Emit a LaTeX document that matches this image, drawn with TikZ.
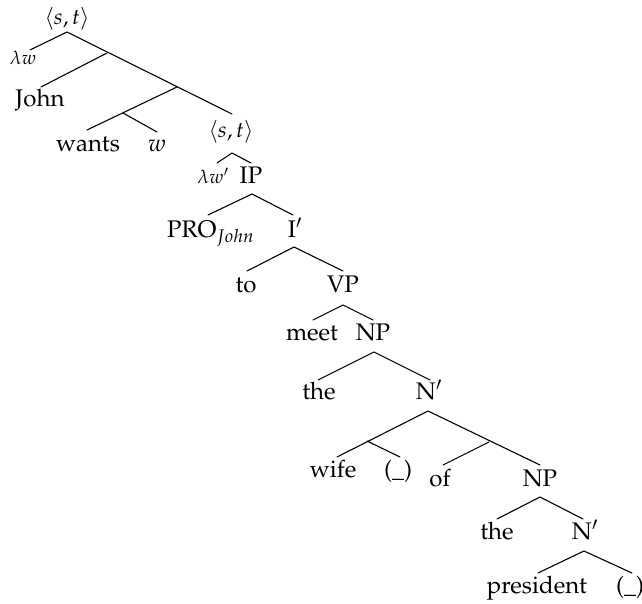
\documentclass[tikz,border=0pt]{standalone}
\usepackage[T1]{fontenc}
\usepackage{mathpazo}
\begin{document}
\begin{tikzpicture}[x=1pt,y=-1pt,
  lab/.style={inner sep=0pt, anchor=base, font=\fontsize{24}{28}\selectfont},
  mlab/.style={inner sep=0pt, anchor=base, font=\fontsize{22}{26}\selectfont},
  slab/.style={inner sep=0pt, anchor=base, font=\fontsize{19}{22}\selectfont},
  br/.style={line width=1.1pt, line cap=round}]
\useasboundingbox (0,0) rectangle (642,604);
% labels
\node[mlab] (st1) at (67,25) {$\langle s,t\rangle$};
\node[slab] (lw) at (23,65) {$\lambda w$};
\node[lab] (john) at (40,107) {John};
\node[lab] (wants) at (88,152) {wants};
\node[lab] (w) at (157,152) {$w$};
\node[mlab] (st2) at (231,138) {$\langle s,t\rangle$};
\node[slab] (lw2) at (213,183) {$\lambda w'$};
\node[lab] (ip) at (251,183) {IP};
\node[lab, anchor=base west] (pro) at (167,237) {PRO$_{John}$};
\node[lab] (ibar) at (295,237) {I$'$};
\node[lab] (to) at (246,292) {to};
\node[lab] (vp) at (343,292) {VP};
\node[lab] (meet) at (312,340) {meet};
\node[lab] (np1) at (373,340) {NP};
\node[lab] (the1) at (319,399) {the};
\node[lab] (nbar1) at (429,399) {N$'$};
\node[lab] (wife) at (333,477) {wife};
\node[lab] (gap1) at (398,477) {(\_)};
\node[lab] (of) at (440,486) {of};
\node[lab] (np2) at (540,486) {NP};
\node[lab] (the2) at (497,539) {the};
\node[lab] (nbar2) at (585,539) {N$'$};
\node[lab] (pres) at (537,593) {president};
\node[lab] (gap2) at (630,593) {(\_)};
% branch points
\coordinate (a0) at (67,32);
\coordinate (a0l) at (30,50);
\coordinate (b1) at (107,53);
\coordinate (b2) at (177,87);
\coordinate (b3) at (123,113);
\coordinate (a0r) at (232,114);
\coordinate (johnt) at (41,87);
\coordinate (wantst) at (87,130);
\coordinate (wt) at (157,132);
\coordinate (s2) at (232,153);
\coordinate (s2l) at (217,163);
\coordinate (s2r) at (251,163);
\coordinate (ipa) at (252,194);
\coordinate (ipl) at (208,215);
\coordinate (ipr) at (293,215);
\coordinate (iba) at (294,247);
\coordinate (ibl) at (247,271);
\coordinate (ibr) at (343,271);
\coordinate (vpa) at (343,305);
\coordinate (vpl) at (313,320);
\coordinate (vpr) at (373,320);
\coordinate (npa) at (374,352);
\coordinate (npl) at (318,380);
\coordinate (npr) at (430,380);
\coordinate (nba) at (428,411);
\coordinate (c1) at (367,441);
\coordinate (c2) at (489,442);
\coordinate (wifet) at (337,457);
\coordinate (gap1t) at (400,457);
\coordinate (oft) at (443,465);
\coordinate (np2t) at (540,465);
\coordinate (np2a) at (540,497);
\coordinate (np2l) at (497,519);
\coordinate (np2r) at (583,519);
\coordinate (nb2a) at (584,551);
\coordinate (nb2l) at (538,573);
\coordinate (nb2r) at (632,573);
% branches
\draw[br] (a0l) -- (a0) -- (a0r);
\draw[br] (b1) -- (johnt);
\draw[br] (b2) -- (wantst);
\draw[br] (b3) -- (wt);
\draw[br] (s2l) -- (s2) -- (s2r);
\draw[br] (ipl) -- (ipa) -- (ipr);
\draw[br] (ibl) -- (iba) -- (ibr);
\draw[br] (vpl) -- (vpa) -- (vpr);
\draw[br] (npl) -- (npa) -- (npr);
\draw[br] (wifet) -- (nba) -- (np2t);
\draw[br] (c1) -- (gap1t);
\draw[br] (c2) -- (oft);
\draw[br] (np2l) -- (np2a) -- (np2r);
\draw[br] (nb2l) -- (nb2a) -- (nb2r);
\end{tikzpicture}
\end{document}
